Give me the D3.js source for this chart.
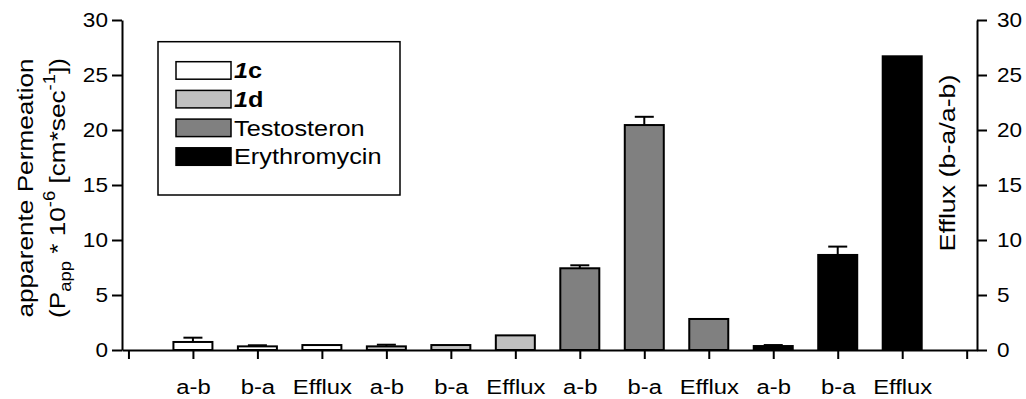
<!DOCTYPE html>
<html>
<head>
<meta charset="utf-8">
<script src="https://cdn.jsdelivr.net/npm/d3@7"></script>
<style>
  html, body { margin: 0; padding: 0; background: #fff; }
  svg { display: block; font-family: Arial, "Liberation Sans", Helvetica, sans-serif; }
</style>
</head>
<body>
<svg id="chart" width="1026" height="399"></svg>
<script>
// Direction / ratio of each bar, in plotting order
const categories = ["a-b", "b-a", "Efflux", "a-b", "b-a", "Efflux",
                    "a-b", "b-a", "Efflux", "a-b", "b-a", "Efflux"];
// Compound each bar belongs to
const compounds = ["1c", "1c", "1c", "1d", "1d", "1d",
                   "Testosteron", "Testosteron", "Testosteron",
                   "Erythromycin", "Erythromycin", "Erythromycin"];
// Papp * 10^-6 [cm/s] (a-b, b-a) and efflux ratio (b-a/a-b)
const values = [0.73, 0.33, 0.45, 0.33, 0.45, 1.33, 7.43, 20.45, 2.82, 0.36, 8.64, 26.7];
// Upper error (SD); efflux ratios carry none
const errors = [0.39, 0.10, 0, 0.15, 0, 0, 0.27, 0.75, 0, 0.09, 0.76, 0];
// Legend entries and their fills
const legendNames = ["1c", "1d", "Testosteron", "Erythromycin"];
const legendFills = ["#ffffff", "#c0c0c0", "#808080", "#000000"];
const yTicks = [0, 5, 10, 15, 20, 25, 30];

const svg = d3.select("#chart");
const fill = d3.scaleOrdinal().domain(legendNames).range(legendFills);

const x = d3.scaleLinear().domain([-0.1, 13.16]).range([122, 977]);
const y = d3.scaleLinear().domain([0, 30]).range([350, 20]);
const y2 = d3.scaleLinear().domain([0, 30]).range([350, 20]);

const FONT = 20;
const SX = 1.13;

// Bars
const barW = 39;
svg.append("g").selectAll("rect")
  .data(values)
  .join("rect")
  .attr("x", (d, i) => x(i + 1) - barW / 2)
  .attr("y", d => y(d))
  .attr("width", barW)
  .attr("height", d => y(0) - y(d))
  .attr("fill", (d, i) => fill(compounds[i]))
  .attr("stroke", "#000")
  .attr("stroke-width", 2);

// Upper error bars
const eb = svg.append("g").attr("stroke", "#000").attr("stroke-width", 2);
values.forEach((v, i) => {
  if (!errors[i]) return;
  const cx = x(i + 1);
  eb.append("line").attr("x1", cx).attr("x2", cx).attr("y1", y(v)).attr("y2", y(v + errors[i]));
  eb.append("line").attr("x1", cx - 9.5).attr("x2", cx + 9.5).attr("y1", y(v + errors[i])).attr("y2", y(v + errors[i]));
});

// Axes
function styleAxis(g) {
  g.selectAll("path.domain").attr("stroke-width", 2);
  g.selectAll(".tick line").attr("stroke-width", 2);
  g.selectAll("text").attr("fill", "#000").attr("font-size", FONT)
    .attr("font-family", "Arial, 'Liberation Sans', sans-serif");
}

const xAxis = svg.append("g")
  .attr("transform", `translate(0,${y(0)})`)
  .call(d3.axisBottom(x)
    .tickValues(d3.range(0, 14))
    .tickSize(9)
    .tickSizeOuter(0)
    .tickFormat(i => (i >= 1 && i <= categories.length) ? categories[i - 1] : ""));
styleAxis(xAxis);
xAxis.selectAll("text")
  .attr("y", null).attr("dy", null)
  .attr("transform", `translate(0,44) scale(1.19,1)`);

const yAxis = svg.append("g")
  .attr("transform", `translate(${x(-0.1)},0)`)
  .call(d3.axisLeft(y).tickValues(yTicks).tickSize(10).tickSizeOuter(0));
styleAxis(yAxis);
yAxis.selectAll("text")
  .attr("x", null)
  .attr("transform", `translate(-14,0) scale(${SX},1)`);

const yAxisR = svg.append("g")
  .attr("transform", `translate(${x(13.16)},0)`)
  .call(d3.axisRight(y2).tickValues(yTicks).tickSize(10).tickSizeOuter(0));
styleAxis(yAxisR);
yAxisR.selectAll("text")
  .attr("x", null)
  .attr("transform", `translate(20,0) scale(${SX},1)`);

// Left axis title (two lines)
svg.append("g")
  .attr("transform", "translate(33,188) rotate(-90) scale(1.15,1)")
  .append("text")
  .attr("text-anchor", "middle")
  .attr("font-size", 22.8)
  .text("apparente Permeation");

const lt2 = svg.append("g")
  .attr("transform", "translate(65,188) rotate(-90) scale(1.15,1)")
  .append("text")
  .attr("text-anchor", "middle")
  .attr("font-size", 22.8);
lt2.append("tspan").text("(P");
lt2.append("tspan").attr("font-size", 16).attr("dy", 6).text("app");
lt2.append("tspan").attr("dy", -6).text(" * 10");
lt2.append("tspan").attr("font-size", 16).attr("dy", -10).text("-6");
lt2.append("tspan").attr("dy", 10).text(" [cm*sec");
lt2.append("tspan").attr("font-size", 16).attr("dy", -10).text("-1");
lt2.append("tspan").attr("dy", 10).text("])");

// Right axis title
svg.append("g")
  .attr("transform", "translate(955,163) rotate(-90) scale(1.22,1)")
  .append("text")
  .attr("text-anchor", "middle")
  .attr("font-size", 22)
  .text("Efflux (b-a/a-b)");

// Legend
const legend = svg.append("g");
legend.append("rect")
  .attr("x", 158).attr("y", 41.7).attr("width", 242).attr("height", 153.3)
  .attr("fill", "#fff").attr("stroke", "#000").attr("stroke-width", 1.5);

legendNames.forEach((name, i) => {
  const top = 61.7 + i * 28.7;
  legend.append("rect")
    .attr("x", 176).attr("y", top).attr("width", 55).attr("height", 17.5)
    .attr("fill", legendFills[i]).attr("stroke", "#000").attr("stroke-width", 1.5);
  const t = legend.append("g")
    .attr("transform", `translate(234,${top + 16.5}) scale(1.15,1)`)
    .append("text")
    .attr("font-size", 22);
  if (i < 2) {
    t.attr("font-weight", "bold");
    t.append("tspan").attr("font-style", "italic").text(name.charAt(0));
    t.append("tspan").text(name.slice(1));
  } else {
    t.text(name);
  }
});
</script>
</body>
</html>
